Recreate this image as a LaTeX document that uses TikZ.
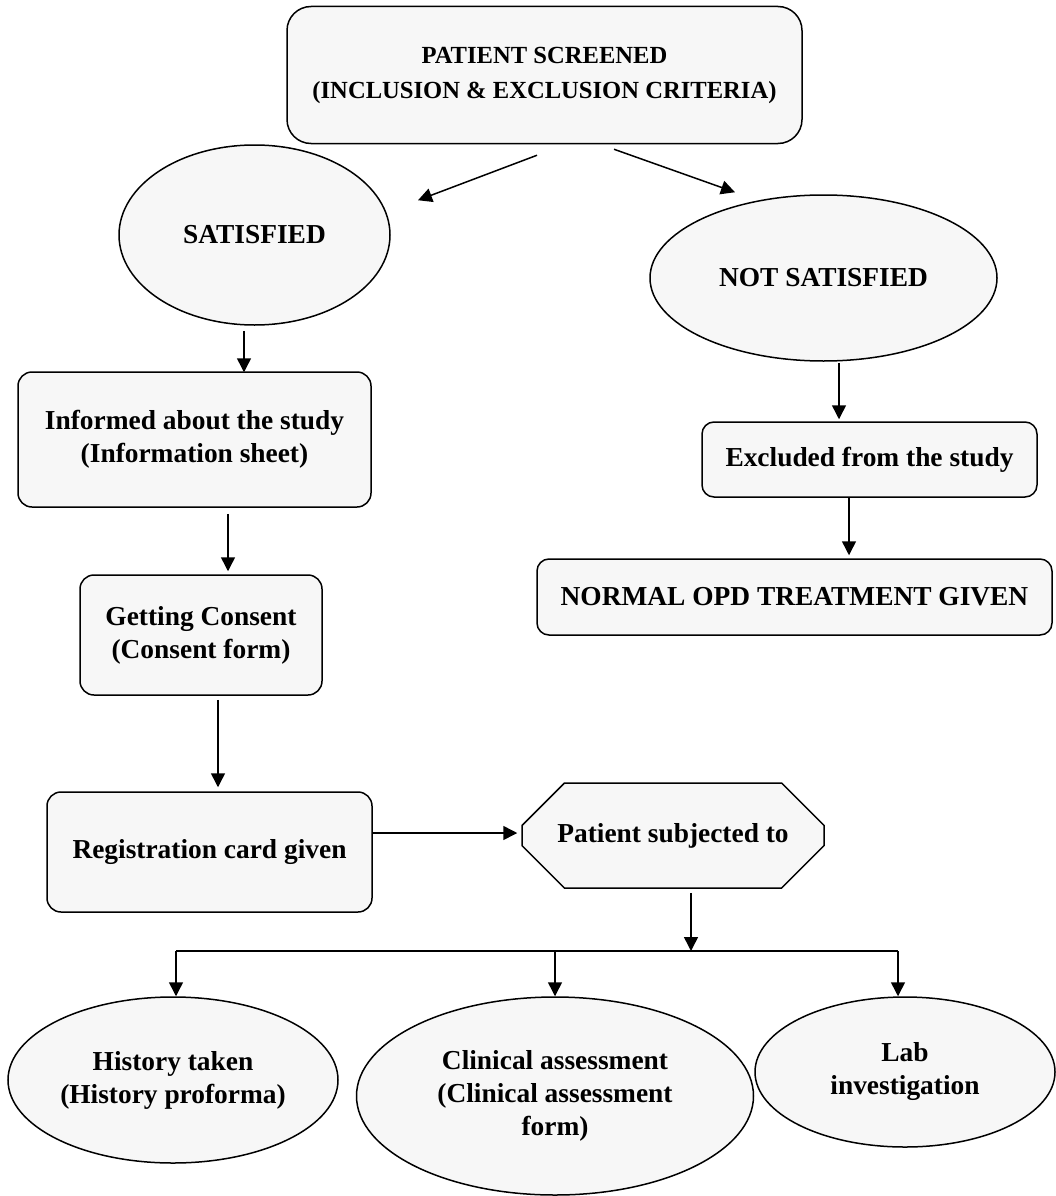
\documentclass[tikz,border=0pt]{standalone}
\usepackage{fontspec}
\setmainfont{Liberation Serif}
\usetikzlibrary{arrows.meta,shapes.geometric,shapes.misc}
\definecolor{boxfill}{HTML}{F7F7F7}
\begin{document}
\begin{tikzpicture}[x=1pt,y=-1pt,
  base/.style={draw=black, line width=1.5pt, fill=boxfill, inner sep=0pt, align=center,
     font=\bfseries\fontsize{27.4}{33}\selectfont},
  rbox/.style={base, rectangle, rounded corners=14pt},
  ell/.style={base, ellipse},
  octo/.style={base, chamfered rectangle, chamfered rectangle xsep=30pt, chamfered rectangle ysep=30pt},
  arr/.style={line width=1.5pt, -{Triangle[length=14pt,width=14pt]}}
]
\useasboundingbox (0,0) rectangle (1055,1196);

\node[rbox, rounded corners=24pt, minimum width=515pt, minimum height=137pt,
  font=\bfseries\fontsize{24.6}{35}\selectfont] (top) at (544.5,75)
  {PATIENT SCREENED\\(INCLUSION \& EXCLUSION CRITERIA)};

\node[ell, minimum width=271pt, minimum height=180pt] (sat) at (254.5,235) {SATISFIED};
\node[ell, minimum width=347pt, minimum height=166pt] (nsat) at (823.5,278) {NOT SATISFIED};

\node[rbox, minimum width=353pt, minimum height=135pt] (inf) at (194.5,439.5)
  {Informed about the study\\(Information sheet)};
\node[rbox, minimum width=242pt, minimum height=120pt] (cons) at (201,635)
  {Getting Consent\\(Consent form)};
\node[rbox, minimum width=325pt, minimum height=120pt] (reg) at (209.5,852)
  {Registration card given};

\node[rbox, rounded corners=12pt, minimum width=335pt, minimum height=75pt] (excl) at (869.5,459.5)
  {Excluded from the study};
\node[rbox, rounded corners=12pt, minimum width=515pt, minimum height=76pt] (norm) at (794.5,597)
  {NORMAL OPD TREATMENT GIVEN};

\node[octo, minimum width=302pt, minimum height=105pt] (pat) at (673,835.5)
  {Patient subjected to};

\node[ell, minimum width=330pt, minimum height=166pt] (e1) at (173,1080)
  {History taken\\(History proforma)};
\node[ell, minimum width=397pt, minimum height=198pt] (e2) at (555,1096)
  {Clinical assessment\\(Clinical assessment\\form)};
\node[ell, minimum width=300pt, minimum height=150pt] (e3) at (905,1072)
  {Lab\\investigation};

% top arrows
\draw[arr] ([xshift=-7.5pt,yshift=-11pt]top.south) -- ([xshift=-126.5pt,yshift=-56pt]top.south);
\draw[arr] ([xshift=69.5pt,yshift=-5pt]top.south) -- ([xshift=190.5pt,yshift=-48pt]top.south);

% left column
\draw[arr] ([xshift=-10.5pt,yshift=-5pt]sat.south) -- ([xshift=49.5pt,yshift=-1pt]inf.north);
\draw[arr] ([xshift=33.5pt,yshift=-6pt]inf.south) -- ([xshift=27pt,yshift=3pt]cons.north);
\draw[arr] ([xshift=17pt,yshift=-4pt]cons.south) -- ([xshift=8.5pt,yshift=4pt]reg.north);
\draw[arr] ([yshift=19pt]reg.east) -- ([xshift=-4pt,yshift=2.5pt]pat.west);

% right column
\draw[arr] ([xshift=15.5pt,yshift=-1pt]nsat.south) -- ([xshift=-30.5pt,yshift=2pt]excl.north);
\draw[arr] ([xshift=-20.5pt]excl.south) -- ([xshift=54.5pt,yshift=3pt]norm.north);

% distribution bar
\coordinate (j) at (691,951);
\coordinate (b1) at (176,951);
\coordinate (b2) at (555,951);
\coordinate (b3) at (898,951);
\draw[arr] ([yshift=-4pt]pat.south -| j) -- (j);
\draw[line width=2.6pt] (b1) -- (b3);
\draw[arr] (b1) -- (b1 |- e1.north);
\draw[arr] (b2) -- (e2.north);
\draw[arr] (b3) -- (b3 |- e3.north);
\end{tikzpicture}
\end{document}
